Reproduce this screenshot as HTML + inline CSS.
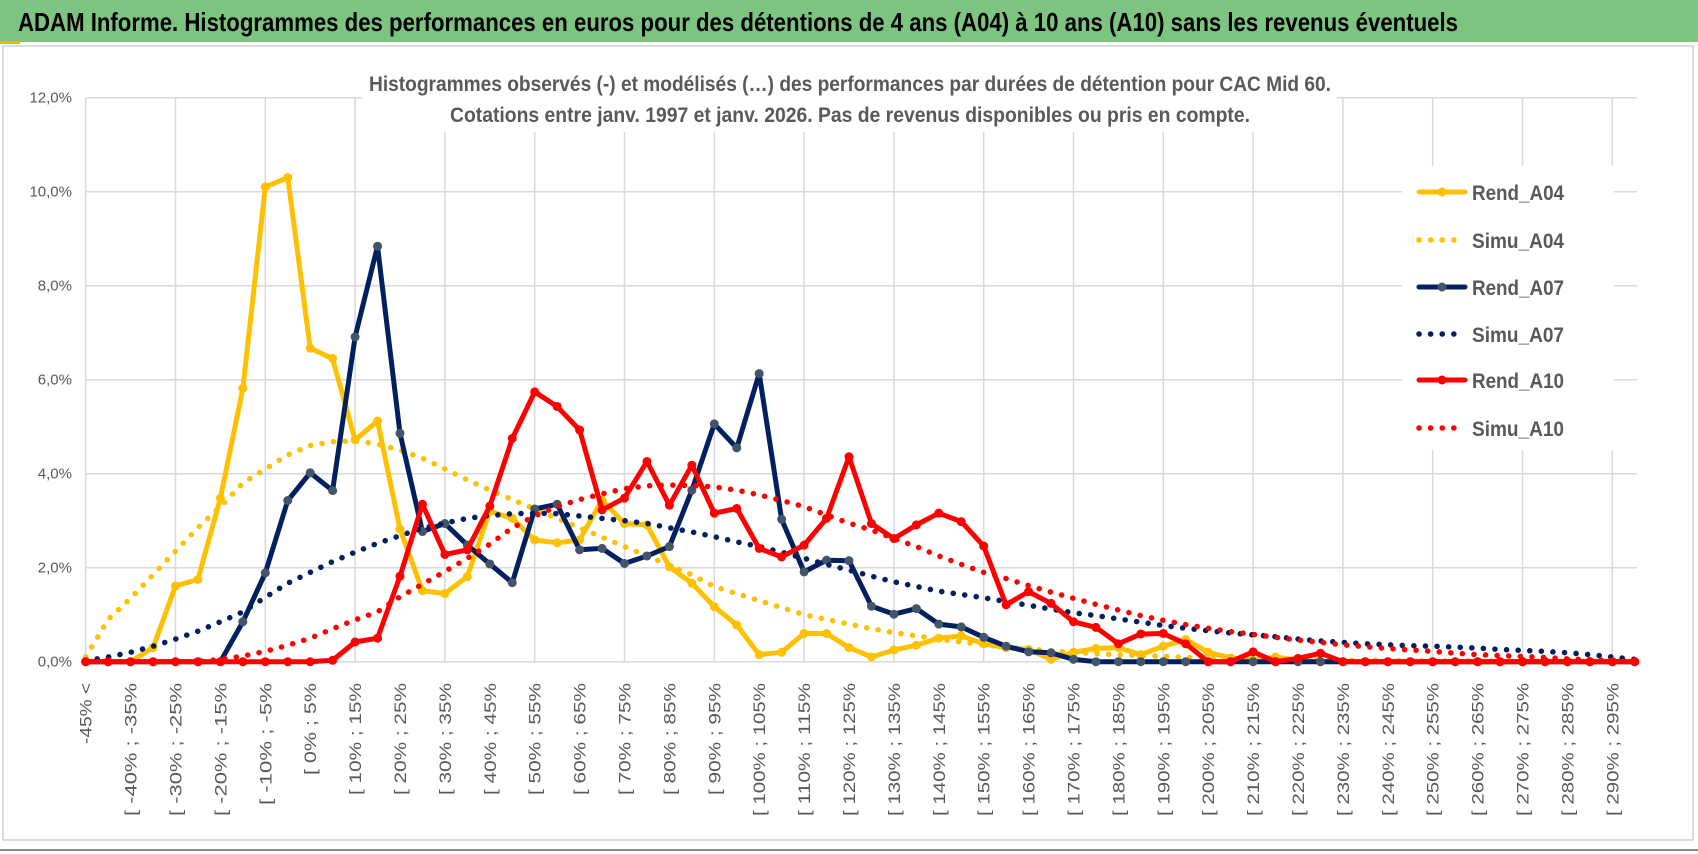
<!DOCTYPE html>
<html><head><meta charset="utf-8"><style>
html,body{margin:0;padding:0;background:#fff;}
svg{display:block;font-family:"Liberation Sans",sans-serif;}
</style></head><body>
<svg id="chart" width="1698" height="854" viewBox="0 0 1698 854" xmlns="http://www.w3.org/2000/svg">
  <rect x="0" y="0" width="1698" height="854" fill="#ffffff"/>
  <rect x="0" y="0" width="1698" height="42" fill="#7cc47f"/>
  <rect x="0" y="41" width="20" height="3" fill="#f0b400"/>
  <text x="18" y="31" font-size="26" font-weight="bold" fill="#000" textLength="1440" lengthAdjust="spacingAndGlyphs">ADAM Informe. Histogrammes des performances en euros pour des détentions de 4 ans (A04) à 10 ans (A10) sans les revenus éventuels</text>
  <rect x="3" y="46" width="1690" height="794" fill="none" stroke="#d0d0d0" stroke-width="1.5"/>
  <line x1="0" y1="850" x2="1698" y2="850" stroke="#8a8a8a" stroke-width="2"/>
  <g id="grid"></g>
  <g id="yaxis"></g>
  <g id="xaxis"></g>
  <rect x="362" y="60" width="975" height="72" fill="#fff"/>
  <text x="850" y="91" font-size="21" font-weight="bold" fill="#595959" text-anchor="middle" textLength="962" lengthAdjust="spacingAndGlyphs">Histogrammes observés (-) et modélisés (…) des performances par durées de détention pour CAC Mid 60.</text>
  <text x="850" y="122" font-size="21" font-weight="bold" fill="#595959" text-anchor="middle" textLength="800" lengthAdjust="spacingAndGlyphs">Cotations entre janv. 1997 et janv. 2026. Pas de revenus disponibles ou pris en compte.</text>
  <g id="series"></g>
  <rect x="1402" y="166" width="212" height="284" fill="#fff"/>
  <g id="legend"></g>
</svg>
<script>
const categories = (function(){ const c=["-45% <"]; for(let i=1;i<70;i++){ c.push("[ "+(-50+5*i)+"% ; "+(-45+5*i)+"%"); } return c; })();
const yTicks = [0,2,4,6,8,10,12];
const yTickLabels = ["0,0%","2,0%","4,0%","6,0%","8,0%","10,0%","12,0%"];
const rendA04 = [0,0,0,0.3,1.61,1.75,3.48,5.82,10.1,10.3,6.67,6.45,4.72,5.12,2.82,1.51,1.45,1.81,3.2,3.05,2.59,2.53,2.59,3.44,2.94,2.91,2.02,1.67,1.17,0.78,0.15,0.2,0.6,0.6,0.3,0.1,0.25,0.35,0.5,0.55,0.38,0.3,0.26,0.05,0.2,0.28,0.3,0.15,0.33,0.47,0.2,0.08,0.03,0.1,0.03,0,0,0,0,0,0,0,0,0,0,0,0,0,0,0];
const simuA04 = [0.1,0.9,1.35,1.85,2.35,2.85,3.3,3.8,4.1,4.4,4.6,4.68,4.7,4.63,4.5,4.33,4.1,3.87,3.65,3.45,3.25,3.05,2.85,2.65,2.45,2.25,2.05,1.85,1.6,1.45,1.3,1.15,1.0,0.9,0.8,0.7,0.62,0.55,0.48,0.42,0.36,0.31,0.27,0.23,0.2,0.17,0.15,0.13,0.11,0.09,0.08,0.07,0.06,0.05,0.04,0.04,0.03,0.03,0.03,0.02,0.02,0.02,0.02,0.01,0.01,0.01,0.01,0.01,0.01,0.01];
const rendA07 = [0,0,0,0,0,0,0,0.85,1.89,3.43,4.02,3.64,6.91,8.84,4.86,2.77,2.94,2.48,2.08,1.68,3.25,3.35,2.38,2.41,2.09,2.25,2.45,3.65,5.06,4.55,6.13,3.03,1.91,2.16,2.15,1.18,1.01,1.13,0.8,0.74,0.52,0.33,0.21,0.19,0.05,0,0,0,0,0,0,0,0,0,0,0,0,0,0,0,0,0,0,0,0,0,0,0,0,0];
const simuA07 = [0.02,0.1,0.2,0.33,0.48,0.65,0.85,1.06,1.37,1.67,1.9,2.13,2.33,2.52,2.68,2.84,2.95,3.05,3.11,3.15,3.16,3.15,3.1,3.05,3.0,2.94,2.85,2.76,2.66,2.55,2.45,2.33,2.2,2.07,1.95,1.82,1.7,1.6,1.5,1.43,1.36,1.28,1.2,1.12,1.04,0.98,0.91,0.84,0.77,0.71,0.66,0.61,0.57,0.53,0.48,0.44,0.41,0.38,0.36,0.34,0.33,0.31,0.29,0.26,0.24,0.22,0.19,0.15,0.1,0.05];
const rendA10 = [0,0,0,0,0,0,0,0,0,0,0,0.03,0.42,0.5,1.82,3.35,2.28,2.38,3.31,4.75,5.74,5.43,4.93,3.23,3.48,4.26,3.33,4.18,3.16,3.26,2.41,2.23,2.48,3.05,4.36,2.94,2.62,2.91,3.16,2.98,2.46,1.21,1.49,1.24,0.85,0.73,0.38,0.59,0.6,0.38,0,0,0.21,0,0.07,0.18,0,0,0,0,0,0,0,0,0,0,0,0,0,0];
const simuA10 = [0,0,0,0,0,0,0.05,0.12,0.22,0.35,0.5,0.7,0.89,1.06,1.38,1.65,1.92,2.2,2.5,2.85,3.1,3.3,3.45,3.57,3.68,3.74,3.76,3.75,3.72,3.65,3.55,3.43,3.3,3.12,2.95,2.8,2.62,2.45,2.25,2.07,1.9,1.77,1.62,1.48,1.35,1.22,1.1,0.98,0.88,0.79,0.71,0.64,0.58,0.52,0.46,0.41,0.36,0.32,0.28,0.25,0.22,0.18,0.15,0.13,0.11,0.09,0.06,0.04,0.02,0];
const seriesNames = ["Rend_A04","Simu_A04","Rend_A07","Simu_A07","Rend_A10","Simu_A10"];

const NS="http://www.w3.org/2000/svg";
const X0=85.7, DX=22.45, Y0=661.7, PY=47.0, XR=1637;
function xPos(i){ return X0+DX*i; }
function yPos(v){ return Y0-PY*v; }
function mk(tag, attrs, parent){ const e=document.createElementNS(NS,tag); for(const k in attrs) e.setAttribute(k,attrs[k]); parent.appendChild(e); return e; }

const grid=document.getElementById('grid');
yTicks.forEach((t,k)=>{
  const l=mk('line',{x1:X0,x2:XR,y1:yPos(t),y2:yPos(t),stroke:'#d9d9d9','stroke-width':1.5},grid);
  
  
});
for(let i=0;i<categories.length;i+=4){
  const l=mk('line',{x1:xPos(i),x2:xPos(i),y1:yPos(12),y2:Y0,stroke:'#d9d9d9','stroke-width':1.5},grid);
  
  
}
const ya=document.getElementById('yaxis');
yTicks.forEach((t,k)=>{
  const tx=mk('text',{x:72,y:yPos(t)+5,'font-size':15,fill:'#595959','text-anchor':'end'},ya);
  tx.textContent=yTickLabels[k];
  
  
});
const xa=document.getElementById('xaxis');
for(let i=0;i<categories.length;i+=2){
  const x=xPos(i)+6, y=683;
  const lbl=categories[i];
  const tx=mk('text',{x:x,y:y,'font-size':17,fill:'#595959','text-anchor':'end',transform:'rotate(-90 '+x+' '+y+')',textLength:(lbl.length*10.2).toFixed(0),lengthAdjust:'spacingAndGlyphs'},xa);
  tx.textContent=lbl;
  
  
}
const sg=document.getElementById('series');
function drawSolid(data,color,marker,name){
  const g=mk('g',{},sg);
  
  
  const pts=data.map((v,i)=>xPos(i).toFixed(1)+','+yPos(v).toFixed(1)).join(' ');
  mk('polyline',{points:pts,fill:'none',stroke:color,'stroke-width':5,'stroke-linejoin':'round','stroke-linecap':'round'},g);
  data.forEach((v,i)=>{
    const c=mk('circle',{cx:xPos(i),cy:yPos(v),r:4.5,fill:marker},g);
    
    
  });
}
function drawDotted(data,color,name){
  const pts=data.map((v,i)=>xPos(i).toFixed(1)+','+yPos(v).toFixed(1)).join(' ');
  const p=mk('polyline',{points:pts,fill:'none',stroke:color,'stroke-width':5.5,'stroke-linecap':'round','stroke-dasharray':'0.1 11.5'},sg);
  
  
}
drawSolid(rendA04,'#ffc000','#ffc000','rend-a04-line');
drawDotted(simuA04,'#ffc000','simu-a04-line');
drawSolid(rendA07,'#002060','#44546a','rend-a07-line');
drawDotted(simuA07,'#002060','simu-a07-line');
drawSolid(rendA10,'#ff0000','#ff0000','rend-a10-line');
drawDotted(simuA10,'#ff0000','simu-a10-line');

const lg=document.getElementById('legend');
const legColors=['#ffc000','#ffc000','#002060','#002060','#ff0000','#ff0000'];
const legMarkers=['#ffc000',null,'#44546a',null,'#ff0000',null];
const legY=[192,240,287,334,380,428];
seriesNames.forEach((n,k)=>{
  const g=mk('g',{},lg);
  
  
  const y=legY[k];
  if(legMarkers[k]){
    mk('line',{x1:1419,x2:1465,y1:y,y2:y,stroke:legColors[k],'stroke-width':5,'stroke-linecap':'round'},g);
    mk('circle',{cx:1442,cy:y,r:4.5,fill:legMarkers[k]},g);
  } else {
    mk('line',{x1:1419,x2:1465,y1:y,y2:y,stroke:legColors[k],'stroke-width':5.5,'stroke-linecap':'round','stroke-dasharray':'0.1 11.5'},g);
  }
  const t=mk('text',{x:1472,y:y+8,'font-size':21,'font-weight':'bold',fill:'#595959',textLength:92,lengthAdjust:'spacingAndGlyphs'},g);
  t.textContent=n;
});
</script>
</body></html>
